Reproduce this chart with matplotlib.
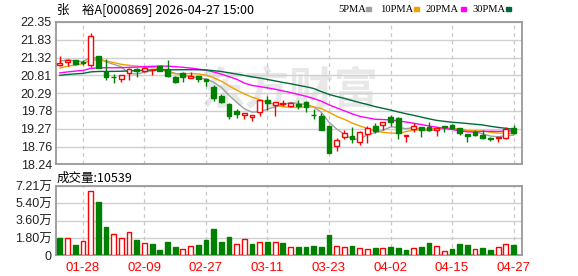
import matplotlib
matplotlib.use("Agg")
import matplotlib.pyplot as plt
import numpy as np
import pandas as pd

plt.rcParams['font.family'] = ['Liberation Sans', 'Noto Sans CJK SC', 'DejaVu Sans']

# closes before the visible window (only used to warm up the moving averages)
prev_closes = [20.55, 20.60, 20.72, 20.68, 20.63, 20.70, 20.75, 20.66, 20.69, 20.72,
               20.70, 20.66, 20.78, 20.74, 20.71, 20.69, 20.76, 20.80, 20.77, 20.79,
               20.74, 20.80, 20.78, 20.86, 20.92,
               21.10, 21.25, 21.30, 21.28]

opens = [21.10, 21.20, 21.24, 21.20, 21.10, 21.37, 20.91, 20.77, 20.71, 20.89,
         21.00, 20.93, 20.96, 21.08, 20.99, 20.77, 20.87, 20.74, 20.78, 20.70,
         20.48, 20.22, 19.98, 19.79, 19.66, 19.60, 19.75, 20.10, 19.95, 19.98,
         19.93, 19.98, 20.05, 19.67, 19.64, 19.35, 18.77, 19.02, 19.06, 18.87,
         19.11, 19.35, 19.38, 19.62, 19.57, 19.06, 19.26, 19.31, 19.33, 19.22,
         19.36, 19.38, 19.28, 19.11, 19.18, 19.09, 18.99, 19.00, 19.01, 19.28]
highs = [21.36, 21.27, 21.25, 21.25, 22.03, 21.38, 21.29, 20.86, 20.82, 21.02,
         21.03, 21.05, 20.98, 21.12, 21.25, 20.79, 20.91, 20.91, 20.80, 20.71,
         20.53, 20.28, 20.00, 19.85, 19.72, 19.67, 20.10, 20.20, 20.05, 20.10,
         20.05, 20.10, 20.06, 19.83, 19.72, 19.36, 18.99, 19.23, 19.31, 19.20,
         19.35, 19.43, 19.47, 19.67, 19.60, 19.10, 19.43, 19.31, 19.45, 19.33,
         19.36, 19.39, 19.30, 19.12, 19.22, 19.23, 19.04, 19.04, 19.31, 19.38]
lows = [21.08, 21.09, 21.10, 21.12, 21.04, 21.02, 20.68, 20.58, 20.61, 20.68,
        20.75, 20.91, 20.81, 20.93, 20.76, 20.60, 20.63, 20.73, 20.63, 20.51,
        20.08, 20.00, 19.56, 19.57, 19.54, 19.50, 19.63, 19.80, 19.63, 19.92,
        19.89, 19.83, 19.76, 19.54, 19.22, 18.57, 18.63, 18.97, 18.85, 18.80,
        18.85, 19.14, 19.23, 19.35, 18.96, 18.89, 19.18, 19.04, 19.20, 19.07,
        19.18, 19.25, 19.10, 18.89, 19.05, 18.97, 18.92, 18.89, 18.97, 19.11]
closes = [21.17, 21.26, 21.13, 21.16, 21.94, 21.03, 20.75, 20.75, 20.81, 20.99,
          20.93, 21.01, 20.97, 20.94, 20.79, 20.63, 20.75, 20.79, 20.71, 20.64,
          20.15, 20.03, 19.64, 19.69, 19.71, 19.66, 20.10, 20.00, 20.03, 20.00,
          20.01, 19.93, 19.89, 19.65, 19.23, 18.58, 18.94, 19.13, 18.96, 19.17,
          19.30, 19.20, 19.47, 19.45, 19.13, 19.09, 19.36, 19.24, 19.23, 19.28,
          19.31, 19.28, 19.14, 19.07, 19.09, 19.01, 18.97, 19.03, 19.25, 19.14]
volumes = [17700, 17700, 10700, 14900, 66500, 55400, 29400, 22200, 17700, 23900,
           15900, 12500, 11800, 5500, 13800, 8700, 6200, 9300, 10700, 15900,
           27300, 13800, 19000, 11400, 16600, 11800, 13500, 13800, 13500, 12800,
           8700, 8700, 8700, 9700, 8700, 21100, 9300, 9000, 9700, 7600,
           6600, 7600, 7600, 8700, 8000, 5500, 7600, 8700, 12800, 9300,
           4200, 6600, 11800, 10700, 6600, 7600, 5500, 8700, 11800, 10539]

date_ticks = [3, 11, 19, 27, 35, 43, 51, 59]
date_labels = ["01-28", "02-09", "02-27", "03-11", "03-23", "04-02", "04-15", "04-27"]
price_labels = ["18.24", "18.76", "19.27", "19.78", "20.29", "20.81", "21.32", "21.83", "22.35"]
vol_labels = ["0", "1.80万", "3.60万", "5.40万", "7.21万"]

UP = '#ff0000'
DOWN = '#008000'
GRID = '#d0d0d0'
ma_colors = {5: '#a0a0a0', 10: '#f0a000', 20: '#ff00ff', 30: '#006a3a'}

opens = np.array(opens)
closes = np.array(closes)
x = np.arange(len(closes))

all_closes = pd.Series(list(prev_closes) + list(closes))
mas = {n: all_closes.rolling(n).mean().values[-len(closes):] for n in ma_colors}

fig = plt.figure(figsize=(5.78, 2.76), dpi=100)
ax = fig.add_axes([56 / 578, 1 - 164.3 / 276, 466 / 578, 142.3 / 276])
axv = fig.add_axes([56 / 578, 1 - 255.3 / 276, 466 / 578, 69.3 / 276])

def style(a):
    for s in a.spines.values():
        s.set_color('#999999')
        s.set_linewidth(1.3)
    a.tick_params(length=0, labelsize=9, colors='#222222', pad=3)
    a.set_xlim(-0.5, 60.1)
    a.set_xticks(date_ticks)
    a.grid(axis='y', color=GRID, linewidth=1.0, linestyle='-')
    for t in date_ticks:
        a.axvline(t, color='#c8c8c8', linewidth=0.9, linestyle=(0, (3, 3)), zorder=0.6)
    a.set_axisbelow(True)

style(ax)
style(axv)

# price panel
ax.set_ylim(18.24, 22.35)
ax.set_yticks(np.linspace(18.24, 22.35, 9))
ax.set_yticklabels(price_labels)
ax.set_xticklabels([])
ax.text(0.5, 0.51, "东方财富", transform=ax.transAxes, fontsize=32, color='#e8e8e8',
        family=['Noto Sans CJK SC'], fontweight='bold', ha='center', va='center', zorder=0.5)

for n, c in ma_colors.items():
    ax.plot(x, mas[n], color=c, linewidth=1.0, zorder=2)

up = closes > opens
cols = np.where(up, UP, DOWN)
ax.vlines(x, lows, highs, colors=cols, linewidth=1.0, zorder=3)
heights = np.where(np.abs(closes - opens) < 0.015, 0.015, np.abs(closes - opens))
bottoms = np.minimum(opens, closes)
ax.bar(x[up], heights[up], bottom=bottoms[up], width=0.62, facecolor='white',
       edgecolor=UP, linewidth=1.0, zorder=4)
ax.bar(x[~up], heights[~up], bottom=bottoms[~up], width=0.62, facecolor=DOWN,
       edgecolor=DOWN, linewidth=1.0, zorder=4)

# volume panel, colour by close vs previous close
prev = np.concatenate([[prev_closes[-1]], closes[:-1]])
vup = closes >= prev
axv.set_ylim(0, 72100)
axv.set_yticks(np.linspace(0, 72100, 5))
axv.set_yticklabels(vol_labels)
axv.set_xticklabels(date_labels, color='#ff0000', fontsize=9.5)
axv.tick_params(axis='x', pad=5)
axv.bar(x[vup], np.array(volumes)[vup], width=0.62, facecolor='white',
        edgecolor=UP, linewidth=1.0, zorder=3)
axv.bar(x[~vup], np.array(volumes)[~vup], width=0.62, facecolor=DOWN,
        edgecolor=DOWN, linewidth=1.0, zorder=3)

# header texts
cjk = ['Noto Sans CJK SC', 'DejaVu Sans']
fig.text(57 / 578, 1 - 9 / 276, "张\u3000裕A[000869] 2026-04-27 15:00", fontsize=9,
         family=cjk, color='#000000', va='center', ha='left')
fig.text(57 / 578, 1 - 178 / 276, "成交量:%d" % volumes[-1], fontsize=9,
         family=cjk, color='#000000', va='center', ha='left')

legend_items = [("5PMA", 338, 366, 5), ("10PMA", 380, 414, 10),
                ("20PMA", 426, 461, 20), ("30PMA", 472, 506, 30)]
for label, px, mx, n in legend_items:
    fig.text(px / 578, 1 - 9 / 276, label, fontsize=7.6, family=['Liberation Serif'],
             color='#000000', va='center', ha='left')
    fig.patches.append(plt.Rectangle((mx / 578, 1 - 10.5 / 276), 5 / 578, 3 / 276,
                                     transform=fig.transFigure, color=ma_colors[n]))

fig.savefig("out.png", dpi=100)
